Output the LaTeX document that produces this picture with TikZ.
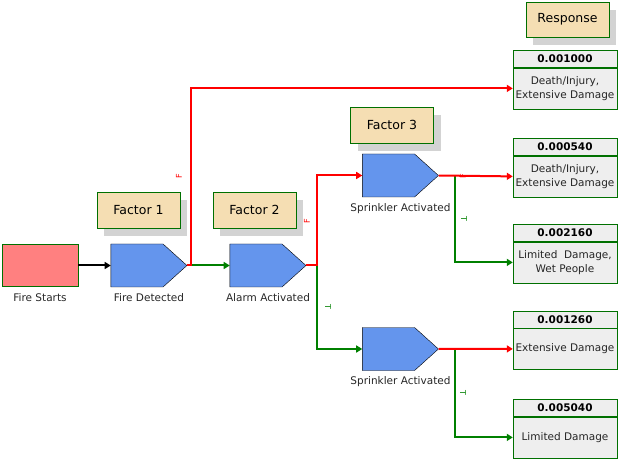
\documentclass[tikz,border=0pt]{standalone}
\usepackage{fontspec}
\setmainfont{DejaVu Sans}
\usetikzlibrary{arrows.meta,shapes.symbols,shadows}
\definecolor{boxgreen}{HTML}{007000}
\definecolor{flowgreen}{HTML}{008000}
\definecolor{eventblue}{HTML}{6495ED}
\definecolor{startpink}{HTML}{FF8080}
\definecolor{factortan}{HTML}{F5DEB3}
\definecolor{respgray}{HTML}{EEEEEE}
\definecolor{shadowgray}{HTML}{D3D3D3}

\begin{document}
\begin{tikzpicture}[x=1pt,y=-1pt,
  font=\fontsize{10.5}{14}\selectfont,
  event/.style={signal, signal to=east, signal pointer angle=84, draw=black,
    fill=eventblue, minimum width=76pt, minimum height=43pt, inner sep=0pt},
  factor/.style={draw=boxgreen, fill=factortan, minimum width=83pt,
    minimum height=36pt, inner sep=0pt, font=\fontsize{12.5}{15}\selectfont,
    drop shadow={shadow xshift=7pt, shadow yshift=-8pt, fill=shadowgray, opacity=1}},
  head/.style={draw=boxgreen, fill=respgray, minimum width=104pt, minimum height=17pt,
    inner sep=0pt, font=\fontsize{10.5}{12}\selectfont\bfseries},
  outcome/.style={draw=boxgreen, fill=respgray, minimum width=104pt,
    minimum height=41pt, inner sep=0pt, align=center, text=black!85},
  lbl/.style={text=black!85},
  yes/.style={flowgreen, line width=2pt, -{Triangle[length=6pt,width=7pt]}},
  no/.style={red, line width=2pt, -{Triangle[length=6pt,width=7pt]}},
  branchtag/.style={font=\fontsize{8}{9}\selectfont, inner sep=0pt}
]
\useasboundingbox (0,0) rectangle (621,462);

% factor headings
\node[factor] (fac1) at (138.5,210) {Factor 1};
\node[factor] (fac2) at (254.5,210) {Factor 2};
\node[factor] (fac3) at (392,125) {Factor 3};
\node[factor, minimum height=35pt] (resp) at (567.5,19.5) {Response};

% events
\node[draw=boxgreen, fill=startpink, minimum width=76pt, minimum height=42pt] (fs) at (40,265.5) {};
\node[event] (fd) at (137,265.5) {};
\node[event] (aa) at (256,265.5) {};
\node[event] (s1) at (388.5,175.5) {};
\node[event] (s2) at (388.5,349) {};

\node[lbl] (fslbl) at (40,298) {Fire Starts};
\node[lbl] (fdlbl) at (149,298) {Fire Detected};
\node[lbl] (aalbl) at (268,298) {Alarm Activated};
\node[lbl] (s1lbl) at (400.5,209) {Sprinkler Activated};
\node[lbl] (s2lbl) at (400.5,382) {Sprinkler Activated};

% outcomes
\node[head] (h1) at (565,59) {0.001000};
\node[outcome, anchor=north] (r1) at (h1.south) {Death/Injury,\\Extensive Damage};
\node[head] (h2) at (565,147) {0.000540};
\node[outcome, anchor=north] (r2) at (h2.south) {Death/Injury,\\Extensive Damage};
\node[head] (h3) at (565,233) {0.002160};
\node[outcome, anchor=north] (r3) at (h3.south) {Limited\ \ Damage,\\Wet People};
\node[head] (h4) at (565,319.5) {0.001260};
\node[outcome, anchor=north] (r4) at (h4.south) {Extensive Damage};
\node[head] (h5) at (565,408) {0.005040};
\node[outcome, anchor=north] (r5) at (h5.south) {Limited Damage};

% branch points
\coordinate (j1) at ([xshift=3.5pt]fd.east);
\coordinate (j2) at ([xshift=11pt]aa.east);
\coordinate (j3) at ([xshift=16pt]s1.east);
\coordinate (j4) at ([xshift=16pt]s2.east);

\draw[line width=2pt, -{Triangle[length=6pt,width=7pt]}] (fs.east) -- (fd.west);

\draw[yes] (j1) -- (aa.west);
\draw[no] (fd.east) -- (j1) |- (r1.west);

\draw[yes] (j2) |- (s2.west);
\draw[no] (aa.east) -- (j2) |- (s1.west);

\draw[yes] (j3) |- (r3.west);
\draw[no] (s1.east) -- (r2.west);

\draw[yes] (j4) |- (r5.west);
\draw[no] (s2.east) -- (r4.west);

% branch marks
\node[branchtag, red, rotate=90] (f1) at (179,176) {F};
\node[branchtag, red, rotate=90] (f2) at (307,221) {F};
\node[branchtag, red, rotate=90] (f3) at (463,176) {F};
\node[branchtag, flowgreen, rotate=-90] (t1) at (328,307) {T};
\node[branchtag, flowgreen, rotate=-90] (t2) at (464,219) {T};
\node[branchtag, flowgreen, rotate=-90] (t3) at (463,393) {T};
\end{tikzpicture}
\end{document}
